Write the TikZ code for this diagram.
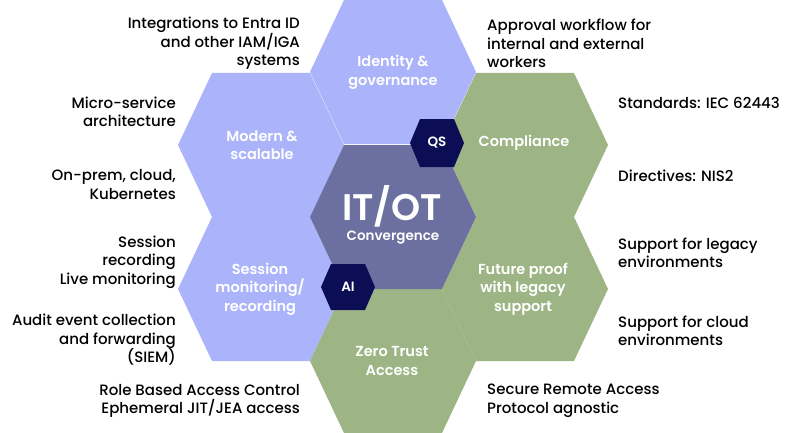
\documentclass[tikz,border=0pt]{standalone}
\usepackage{fontspec}
\setmainfont{Poppins}[UprightFont=* Medium, BoldFont=* SemiBold]
\definecolor{lav}{HTML}{ABB3FA}
\definecolor{slate}{HTML}{6B70A0}
\definecolor{sage}{HTML}{9DB585}
\definecolor{navy}{HTML}{0C0E55}
\newcommand\hexa[6]{%
  \fill[#6] (#1-#3,#2) -- (#1-#4,#2-#5) -- (#1+#4,#2-#5) -- (#1+#3,#2)
    -- (#1+#4,#2+#5) -- (#1-#4,#2+#5) -- cycle;}
\tikzset{
  hexlabel/.style={text=white, align=center, inner sep=0pt,
    font=\fontsize{14.5}{18.5}\selectfont\bfseries},
  smalllabel/.style={text=white, inner sep=0pt,
    font=\fontsize{13.5}{16}\selectfont\bfseries},
  lefttext/.style={anchor=east, align=right, inner sep=0pt, text=black,
    font=\fontsize{15}{18.5}\selectfont},
  righttext/.style={anchor=west, align=left, inner sep=0pt, text=black,
    font=\fontsize{15}{18.5}\selectfont},
}
\begin{document}
\begin{tikzpicture}[x=1pt,y=-1pt]
\useasboundingbox (0,0) rectangle (794,433);
% big hexagons
\hexa{261}{145}{83}{49}{72}{lav}
\hexa{261}{289}{83}{49}{72}{lav}
\hexa{525}{145}{83}{49}{72}{sage}
\hexa{525}{289}{83}{49}{72}{sage}
\hexa{393}{361}{83}{49}{72}{sage}
\hexa{393}{72}{83}{49}{72}{lav}
\hexa{393}{217}{83}{49}{72}{slate}
% small hexagons
\hexa{437}{143}{27}{17}{24}{navy}
\hexa{348}{287}{27}{17}{23}{navy}
% hex labels
\node[hexlabel] (idg) at (393,72.5) {Identity \&\\governance};
\node[hexlabel] (mod) at (262,145) {Modern \&\\scalable};
\node[hexlabel] (comp) at (524,143) {Compliance};
\node[hexlabel] (sess) at (260,289) {Session\\monitoring/\\recording};
\node[hexlabel] (fut) at (523,289) {Future proof\\with legacy\\support};
\node[hexlabel] (zta) at (392,361) {Zero Trust\\Access};
\node[text=white, inner sep=0pt, font=\fontsize{37}{40}\selectfont\bfseries] (itot) at (392,206) {IT/OT};
\node[smalllabel] (conv) at (393,238) {Convergence};
\node[smalllabel] (qs) at (437,143) {QS};
\node[smalllabel] (ai) at (348,287) {AI};
% outside texts
\node[lefttext] (t1) at (300,43.5) {Integrations to Entra ID\\and other IAM/IGA\\systems};
\node[lefttext] (t2) at (176,112) {Micro-service\\architecture};
\node[lefttext] (t3) at (176,184.5) {On-prem, cloud,\\Kubernetes};
\node[lefttext] (t4) at (176,262) {Session\\recording\\Live monitoring};
\node[lefttext] (t5) at (176,340) {Audit event collection\\and forwarding\\(SIEM)};
\node[lefttext] (t6) at (300,401) {Role Based Access Control\\Ephemeral JIT/JEA access};
\node[righttext] (r1) at (487,43.5) {Approval workflow for\\internal and external\\workers};
\node[righttext] (r2) at (618,103) {Standards: IEC 62443};
\node[righttext] (r3) at (618,176) {Directives: NIS2};
\node[righttext] (r4) at (618,253) {Support for legacy\\environments};
\node[righttext] (r5) at (618,331) {Support for cloud\\environments};
\node[righttext] (r6) at (487,401) {Secure Remote Access\\Protocol agnostic};
\end{tikzpicture}
\end{document}
